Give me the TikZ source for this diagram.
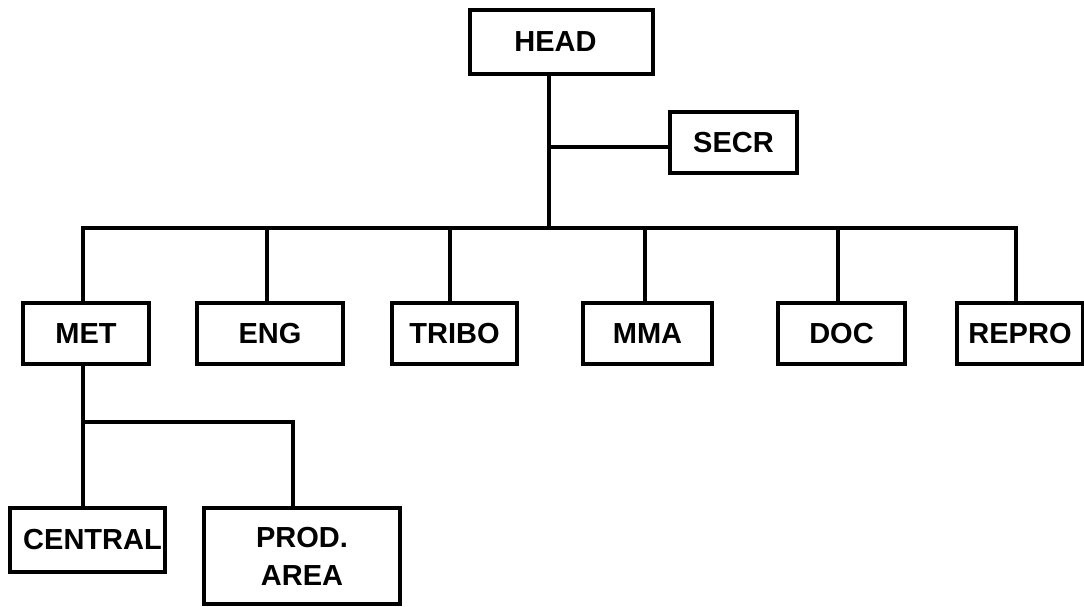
\documentclass[tikz,border=0pt]{standalone}
\usepackage{fontspec}
\setmainfont{Liberation Sans}
\begin{document}
\begin{tikzpicture}[x=1pt,y=-1pt,
  line width=3.4pt,
  unit/.style={draw, rectangle, inner sep=0pt, font=\bfseries\fontsize{29}{38}\selectfont, align=center},
  link/.style={line cap=rect}]
\useasboundingbox (0,0) rectangle (1084,606);

% boxes
\node[unit, minimum width=183pt, minimum height=64pt] (head) at (561.5,42) {\hspace*{-12pt}HEAD};
\node[unit, minimum width=127pt, minimum height=61pt] (secr) at (733.5,142.5) {SECR};

\node[unit, minimum width=126pt, minimum height=61pt] (met)   at (86,333.5)   {MET};
\node[unit, minimum width=146pt, minimum height=61pt] (eng)   at (270,333.5)  {ENG};
\node[unit, minimum width=125pt, minimum height=61pt] (tribo) at (454.5,333.5){TRIBO};
\node[unit, minimum width=129pt, minimum height=61pt] (mma)   at (647.5,333.5){MMA};
\node[unit, minimum width=127pt, minimum height=61pt] (doc)   at (841.5,333.5){DOC};
\node[unit, minimum width=126pt, minimum height=61pt] (repro) at (1020,333.5) {REPRO};

\node[unit, minimum width=155pt, minimum height=64pt] (central) at (87.5,540) {\hspace*{10pt}CENTRAL};
\node[unit, minimum width=196pt, minimum height=96pt] (prod) at (302,556) {PROD.\\AREA};

% junction points
\coordinate (spine) at (549,228);
\coordinate (tap)   at (549,147);
\coordinate (b1) at (83,228);
\coordinate (b2) at (267,228);
\coordinate (b3) at (450,228);
\coordinate (b4) at (645,228);
\coordinate (b5) at (838,228);
\coordinate (b6) at (1016,228);
\coordinate (m1) at (83,422);
\coordinate (m2) at (293,422);

% connectors
\draw (spine |- head.south) -- (spine);
\draw (tap) -- (secr.west |- tap);
\draw[link] (b1) -- (b6);
\draw (b1) -- (b1 |- met.north);
\draw (b2) -- (b2 |- eng.north);
\draw (b3) -- (b3 |- tribo.north);
\draw (b4) -- (b4 |- mma.north);
\draw (b5) -- (b5 |- doc.north);
\draw (b6) -- (b6 |- repro.north);
\draw (m1 |- met.south) -- (m1);
\draw[link] (m1) -- (m2);
\draw (m1) -- (m1 |- central.north);
\draw (m2) -- (m2 |- prod.north);
\end{tikzpicture}
\end{document}
